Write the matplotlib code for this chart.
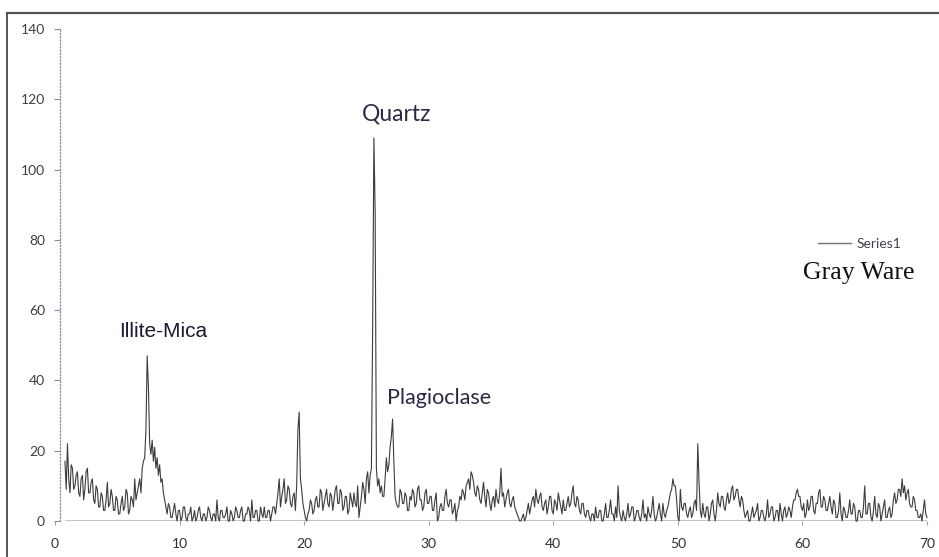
import matplotlib
matplotlib.use("Agg")
import matplotlib.pyplot as plt
from matplotlib.lines import Line2D
import numpy as np

# intensities, 20 values per row (2 degrees per row, step 0.1)
counts = [
    17, 9, 22, 12, 8, 16, 15, 9, 10, 13, 14, 8, 7, 12, 13, 6, 9, 14, 15, 8,      # 0.8
    8, 11, 12, 6, 5, 10, 9, 4, 4, 8, 7, 3, 3, 6, 11, 4, 5, 9, 7, 3,             # 2.8
    3, 7, 6, 2, 2, 5, 7, 3, 4, 9, 8, 2, 3, 7, 6, 4, 12, 6, 8, 10,               # 4.8
    12, 8, 15, 17, 18, 26, 47, 38, 22, 19, 23, 17, 21, 15, 18, 13, 16, 11, 12, 8,  # 6.8
    6, 4, 2, 5, 4, 1, 1, 3, 5, 2, 0, 3, 3, 0, 1, 4, 4, 1, 0, 2,                 # 8.8
    2, 4, 0, 1, 3, 0, 1, 3, 4, 1, 0, 2, 2, 0, 1, 4, 3, 1, 0, 2,                 # 10.8
    2, 0, 6, 1, 0, 3, 3, 1, 1, 2, 4, 0, 0, 3, 2, 0, 1, 4, 3, 1,                 # 12.8
    1, 3, 4, 0, 0, 2, 2, 4, 3, 0, 6, 1, 1, 3, 3, 0, 0, 4, 2, 1,                 # 14.8
    4, 1, 1, 3, 3, 0, 2, 4, 4, 2, 5, 8, 12, 4, 7, 9, 12, 5, 6, 10,              # 16.8
    9, 5, 4, 7, 8, 3, 10, 26, 31, 12, 9, 5, 3, 1, 0, 2, 3, 6, 5, 2,             # 18.8
    3, 6, 7, 4, 4, 9, 8, 3, 5, 7, 9, 5, 4, 8, 7, 3, 6, 9, 10, 5,                # 20.8
    5, 9, 8, 3, 4, 7, 7, 2, 3, 8, 6, 4, 8, 5, 4, 10, 1, 4, 7, 11,               # 22.8
    9, 5, 12, 14, 8, 13, 15, 55, 109, 88, 15, 10, 12, 8, 10, 7, 7, 12, 18, 14,  # 24.8
    16, 21, 24, 29, 17, 7, 5, 4, 4, 9, 8, 5, 5, 8, 7, 3, 3, 7, 6, 9,            # 26.8
    8, 4, 5, 9, 10, 6, 6, 3, 4, 8, 9, 5, 5, 7, 7, 3, 3, 6, 8, 0,                # 28.8
    1, 4, 5, 3, 3, 7, 9, 5, 4, 6, 6, 2, 3, 5, 0, 3, 4, 7, 6, 9,                 # 30.8
    8, 6, 10, 11, 12, 9, 14, 13, 11, 8, 7, 10, 9, 6, 5, 8, 11, 7, 4, 9,         # 32.8
    8, 5, 3, 6, 7, 4, 9, 6, 5, 8, 15, 7, 8, 4, 6, 8, 9, 5, 4, 6,                # 34.8
    7, 4, 3, 2, 1, 0, 0, 1, 2, 0, 1, 3, 5, 2, 4, 6, 7, 4, 9, 6,                 # 36.8
    5, 7, 8, 4, 3, 5, 6, 2, 4, 7, 7, 3, 2, 6, 5, 3, 8, 6, 4, 2,                 # 38.8
    6, 3, 3, 5, 7, 4, 5, 8, 10, 5, 4, 7, 6, 3, 2, 5, 5, 2, 1, 3,                # 40.8
    3, 1, 0, 2, 2, 0, 4, 1, 1, 3, 3, 0, 0, 2, 5, 1, 1, 3, 6, 2,                 # 42.8
    2, 0, 4, 1, 10, 3, 1, 0, 3, 1, 0, 2, 5, 1, 2, 4, 4, 0, 1, 3,                # 44.8
    3, 1, 0, 2, 6, 1, 2, 0, 4, 2, 1, 3, 7, 2, 0, 1, 3, 5, 2, 0,                 # 46.8
    5, 2, 1, 3, 4, 6, 8, 9, 12, 10, 10, 6, 1, 0, 9, 4, 3, 5, 5, 2,              # 48.8
    1, 3, 4, 1, 2, 5, 6, 3, 22, 11, 3, 1, 5, 2, 1, 4, 4, 0, 2, 5,               # 50.8
    6, 2, 0, 3, 8, 5, 4, 7, 7, 4, 3, 6, 8, 5, 6, 9, 10, 6, 7, 9,                # 52.8
    9, 6, 4, 7, 6, 3, 1, 2, 3, 0, 0, 2, 4, 1, 2, 3, 5, 0, 1, 3,                 # 54.8
    3, 1, 0, 2, 6, 1, 2, 4, 4, 0, 1, 3, 3, 0, 5, 2, 0, 3, 4, 1,                 # 56.8
    2, 4, 3, 1, 4, 6, 6, 8, 9, 7, 7, 4, 3, 5, 1, 2, 6, 3, 4, 7,                 # 58.8
    7, 3, 2, 5, 5, 8, 9, 4, 4, 7, 6, 3, 3, 5, 7, 4, 2, 6, 5, 1,                 # 60.8
    1, 3, 8, 2, 0, 4, 3, 1, 1, 3, 6, 2, 2, 5, 4, 0, 0, 3, 3, 1,                 # 62.8
    1, 4, 10, 2, 2, 5, 5, 1, 0, 3, 7, 2, 1, 5, 4, 0, 2, 4, 6, 1,                # 64.8
    1, 3, 4, 1, 2, 6, 8, 5, 6, 9, 9, 7, 12, 8, 10, 6, 8, 9, 5, 4,               # 66.8
    4, 7, 6, 3, 3, 1, 1, 2, 0, 3, 6, 2, 1,                                      # 68.8 - 70.0
]
# 2-theta positions, starting at 0.8 with step 0.1
two_theta = np.round(0.8 + 0.1 * np.arange(len(counts)), 1)

x_ticks = [0, 10, 20, 30, 40, 50, 60, 70]
y_ticks = [0, 20, 40, 60, 80, 100, 120, 140]

W, H = 939, 557
fig = plt.figure(figsize=(W / 100, H / 100), dpi=100)

# outer frame (only top and left edges are visible in the crop)
fig.add_artist(Line2D([7 / W, 7 / W], [0, 1 - 13 / H], color="#555555", lw=1.4))
fig.add_artist(Line2D([7 / W, 1], [1 - 13 / H, 1 - 13 / H], color="#555555", lw=1.6))

ax = fig.add_axes([55 / W, 36 / H, 872 / W, 492 / H])
ax.set_xlim(0, 70)
ax.set_ylim(0, 140)

# horizontal axis line in light gray
ax.axhline(0, xmin=0.9 / 70, xmax=1.0, color="#c4c4c4", lw=2.2, zorder=1)

ax.plot(two_theta, counts, color="#3c3c3c", lw=0.8, label="Series1",
        clip_on=False, zorder=2)

for s in ["top", "right", "bottom"]:
    ax.spines[s].set_visible(False)
ax.spines["left"].set_position(("data", 0.4))
ax.spines["left"].set_linestyle(":")
ax.spines["left"].set_color("#8a8aa8")
ax.spines["left"].set_linewidth(0.9)

ax.set_xticks(x_ticks)
ax.set_yticks(y_ticks)
ax.tick_params(axis="y", direction="out", length=4.3, width=0.8, color="#8a8aa8",
               pad=6.5, labelsize=10, labelcolor="#404040")
ax.tick_params(axis="x", direction="out", length=3, width=0.8, color="#a0a0a0",
               pad=9, labelsize=10, labelcolor="#303030")
for lab in ax.get_xticklabels() + ax.get_yticklabels():
    lab.set_family("Lato")

# peak labels
ax.text(27.4, 115.8, "Quartz", family="Lato", fontsize=16.5, color="#2b2a44",
        ha="center", va="center")
ax.text(30.8, 35.0, "Plagioclase", family="Lato", fontsize=15.5, color="#2b2a44",
        ha="center", va="center")
ax.text(8.66, 53.8, "Illite-Mica", family="Liberation Sans", fontsize=15,
        color="#1a1a30", ha="center", va="center")

leg = ax.legend(loc="center left", bbox_to_anchor=(818 / W, 1 - 244 / H),
                bbox_transform=fig.transFigure, frameon=False, borderpad=0,
                borderaxespad=0, handlelength=2.4, handletextpad=0.35,
                prop={"family": "Lato", "size": 10})
for t in leg.get_texts():
    t.set_color("#404050")
leg.get_lines()[0].set_color("#707080")
leg.get_lines()[0].set_linewidth(1.0)

fig.text(803 / W, 1 - 273 / H, "Gray Ware", family="Liberation Serif",
         fontsize=18.5, color="#111111", ha="left", va="center")

fig.savefig("out.png", dpi=100)
